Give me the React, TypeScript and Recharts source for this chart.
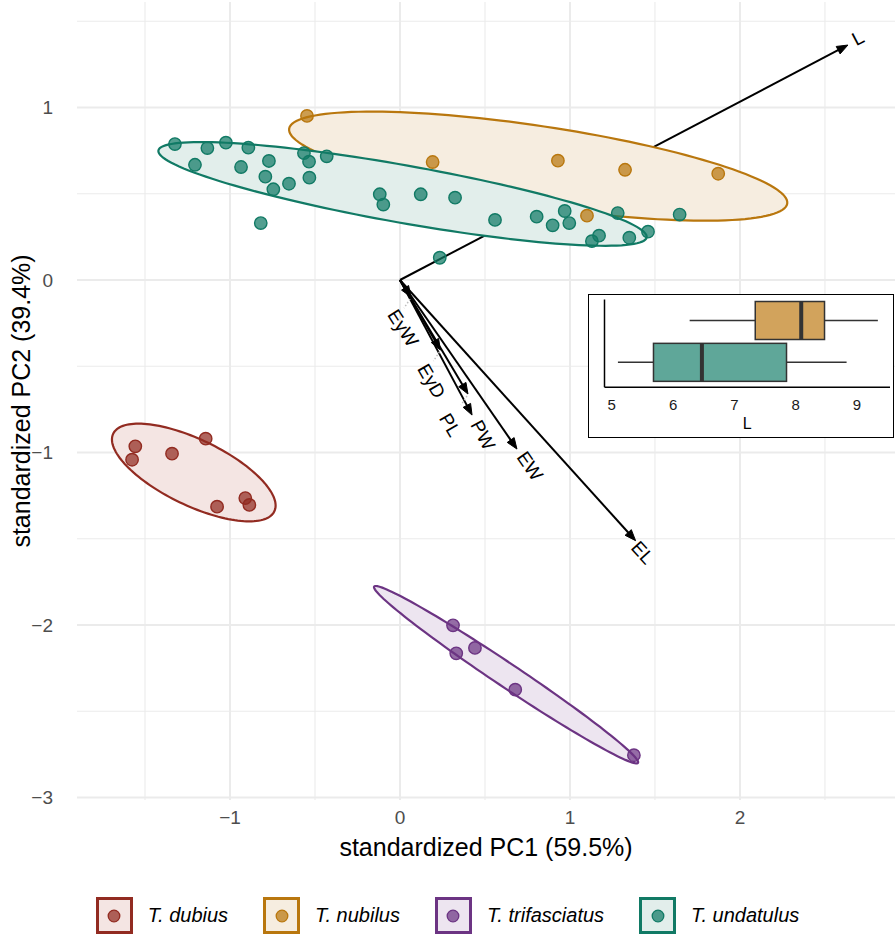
import React from "react";
import { ComposedChart, BarChart, Bar, Scatter, XAxis, YAxis, ReferenceLine } from "recharts";

const FONT = '"Liberation Sans", Arial, Helvetica, sans-serif';

// species, in legend / drawing order
const SPECIES = ["T. dubius", "T. nubilus", "T. trifasciatus", "T. undatulus"];

// PCA scores
const DUBIUS_PC1 = [-1.557, -1.576, -1.341, -1.143, -1.076, -0.91, -0.886];
const DUBIUS_PC2 = [-0.964, -1.042, -1.007, -0.92, -1.314, -1.264, -1.304];
const NUBILUS_PC1 = [-0.547, 0.192, 0.929, 1.324, 1.872, 1.1];
const NUBILUS_PC2 = [0.951, 0.684, 0.692, 0.639, 0.616, 0.373];
const TRIFASCIATUS_PC1 = [0.312, 0.331, 0.441, 0.678, 1.376];
const TRIFASCIATUS_PC2 = [-2.002, -2.164, -2.133, -2.375, -2.755];
const UNDATULUS_PC1 = [
  -1.324, -1.133, -1.024, -0.892, -1.206, -0.935, -0.771, -0.792, -0.745, -0.653, -0.565,
  -0.535, -0.533, -0.431, -0.819, -0.119, -0.098, 0.122, 0.324, 0.559, 0.804, 0.898, 0.969,
  0.996, 1.171, 1.129, 1.281, 1.349, 1.459, 1.645, 0.234,
];
const UNDATULUS_PC2 = [
  0.788, 0.765, 0.796, 0.767, 0.668, 0.655, 0.69, 0.599, 0.526, 0.558, 0.736, 0.686, 0.593,
  0.717, 0.33, 0.497, 0.437, 0.497, 0.477, 0.348, 0.367, 0.317, 0.4, 0.33, 0.257, 0.225,
  0.388, 0.245, 0.28, 0.379, 0.129,
];

// confidence ellipses: centre and the ends of two conjugate semi-axes (PC units)
const ELLIPSE_CX = [-1.213, 0.813, 0.624, 0.015];
const ELLIPSE_CY = [-1.116, 0.66, -2.288, 0.499];
const ELLIPSE_AX = [-0.739, 2.278, 1.4, 1.451];
const ELLIPSE_AY = [-1.341, 0.443, -2.799, 0.247];
const ELLIPSE_BX = [-1.297, 0.778, 0.585, -0.015];
const ELLIPSE_BY = [-1.288, 0.43, -2.345, 0.335];

// variable loadings
const VARIABLES = ["L", "EL", "EW", "PW", "PL", "EyD", "EyW"];
const LOAD_PC1 = [2.635, 1.386, 0.688, 0.424, 0.4, 0.238, 0.065];
const LOAD_PC2 = [1.362, -1.511, -0.98, -0.783, -0.661, -0.406, -0.099];

// inset boxplot of L
const BOX_GROUPS = ["T. nubilus", "T. undatulus"];
const BOX_MIN = [6.27, 5.1];
const BOX_Q1 = [7.34, 5.68];
const BOX_MED = [8.09, 6.47];
const BOX_Q3 = [8.47, 7.85];
const BOX_MAX = [9.34, 8.83];

const X_TICKS = [-1, 0, 1, 2];
const X_MINOR = [-1.5, -0.5, 0.5, 1.5, 2.5];
const Y_TICKS = [-3, -2, -1, 0, 1];
const Y_MINOR = [-2.5, -1.5, -0.5, 0.5, 1.5];
const L_TICKS = [5, 6, 7, 8, 9];

// styles
const LINE_COL = ["#922B21", "#B9770E", "#6C3483", "#117A65"];
const FILL_COL = ["#F4E5E3", "#F6EDE0", "#EDE5F0", "#E2EEEB"];
const BOX_FILL: Record<string, string> = { "T. nubilus": "#D2A35C", "T. undatulus": "#5FA799" };
const LABEL_OFFSET: Record<string, [number, number]> = {
  L: [10, -7],
  EL: [7, 12],
  EW: [13, 17],
  PW: [11, 20],
  PL: [-18, 31],
  EyD: [-9, 31],
  EyW: [-8, 31],
};
const LEADER = ["PL", "EyD", "EyW"];

const SCORES = [
  [DUBIUS_PC1, DUBIUS_PC2],
  [NUBILUS_PC1, NUBILUS_PC2],
  [TRIFASCIATUS_PC1, TRIFASCIATUS_PC2],
  [UNDATULUS_PC1, UNDATULUS_PC2],
].map(([xs, ys]) => xs.map((x, i) => ({ x, y: ys[i] })));

const ELLIPSES = SPECIES.map((_, i) => [
  { x: ELLIPSE_CX[i], y: ELLIPSE_CY[i] },
  { x: ELLIPSE_AX[i], y: ELLIPSE_AY[i] },
  { x: ELLIPSE_BX[i], y: ELLIPSE_BY[i] },
]);

const boxData = BOX_GROUPS.map((name, i) => ({
  name,
  min: BOX_MIN[i],
  q1: BOX_Q1[i],
  med: BOX_MED[i],
  q3: BOX_Q3[i],
  max: BOX_MAX[i],
}));

const minus = (v: number) => (v < 0 ? `\u2212${-v}` : `${v}`);

const noPoint = () => <g />;

// ellipse = affine image of the unit circle through the three scaled points
const ellipseLine = (i: number) => (lp: any) => {
  const pts = lp.points;
  if (!pts || pts.length < 3) return <g />;
  const [c, a, b] = pts;
  const ux = a.x - c.x, uy = a.y - c.y, vx = b.x - c.x, vy = b.y - c.y;
  let d = "";
  for (let k = 0; k <= 144; k++) {
    const t = (k / 144) * Math.PI * 2;
    const px = c.x + ux * Math.cos(t) + vx * Math.sin(t);
    const py = c.y + uy * Math.cos(t) + vy * Math.sin(t);
    d += (k === 0 ? "M" : "L") + px.toFixed(2) + "," + py.toFixed(2);
  }
  return <path d={d + "Z"} fill={FILL_COL[i]} stroke={LINE_COL[i]} strokeWidth={2.2} />;
};

const dot = (i: number) => (p: any) => (
  <circle cx={p.cx} cy={p.cy} r={6.2} fill={LINE_COL[i]} fillOpacity={0.72} stroke={LINE_COL[i]} strokeWidth={1.4} />
);

const arrow = (name: string) => (p: any) => {
  const { x1, y1, x2, y2 } = p;
  const dx = x2 - x1, dy = y2 - y1;
  const len = Math.hypot(dx, dy) || 1;
  const ux = dx / len, uy = dy / len;
  const head = 11, half = 4.2;
  const bx = x2 - ux * head, by = y2 - uy * head;
  const ang = (Math.atan2(dy, dx) * 180) / Math.PI;
  const [ox, oy] = LABEL_OFFSET[name];
  const lx = x2 + ox, ly = y2 + oy;
  return (
    <g>
      <line x1={x1} y1={y1} x2={bx + ux * 2} y2={by + uy * 2} stroke="#000" strokeWidth={2} />
      <polygon
        points={`${x2},${y2} ${bx - uy * half},${by + ux * half} ${bx + uy * half},${by - ux * half}`}
        fill="#000"
        stroke="#000"
        strokeWidth={1}
      />
      {LEADER.includes(name) && (
        <line x1={x2 - 1} y1={y2 + 2} x2={x2 - 7} y2={y2 + 11} stroke="#bdbdbd" strokeWidth={1.5} strokeDasharray="1.5 2" />
      )}
      <text
        x={lx}
        y={ly}
        transform={`rotate(${ang} ${lx} ${ly})`}
        textAnchor="middle"
        dominantBaseline="central"
        fontSize={19}
        fontFamily={FONT}
        fill="#000"
      >
        {name}
      </text>
    </g>
  );
};

const BoxShape = (p: any) => {
  const { x, y, width, height, payload } = p;
  const d = payload;
  const px = (v: number) => x + (width * (v - d.min)) / (d.max - d.min);
  const cy = y + height / 2;
  return (
    <g>
      <line x1={x} x2={px(d.q1)} y1={cy} y2={cy} stroke="#333" strokeWidth={1.5} />
      <line x1={px(d.q3)} x2={x + width} y1={cy} y2={cy} stroke="#333" strokeWidth={1.5} />
      <rect x={px(d.q1)} y={y} width={px(d.q3) - px(d.q1)} height={height} fill={BOX_FILL[d.name]} stroke="#333" strokeWidth={1.5} />
      <line x1={px(d.med)} x2={px(d.med)} y1={y} y2={y + height} stroke="#333" strokeWidth={4} />
    </g>
  );
};

const tickStyle = { fontSize: 19, fill: "#4D4D4D", fontFamily: FONT };
const titleStyle = { fontSize: 25, fill: "#000", fontFamily: FONT, textAnchor: "middle" as const };

export default function App() {
  return (
    <div style={{ position: "absolute", left: 0, top: 0, width: 895, height: 936, background: "#fff" }}>
      <ComposedChart width={895} height={880} margin={{ top: 2, right: 0, bottom: 0, left: 0 }}>
        <XAxis
          type="number"
          dataKey="x"
          domain={[-1.9, 2.912]}
          allowDataOverflow
          ticks={X_TICKS}
          tickFormatter={minus}
          tickLine={false}
          tickSize={0}
          tickMargin={11}
          axisLine={false}
          height={80}
          tick={tickStyle}
          label={{ value: "standardized PC1 (59.5%)", position: "insideBottom", offset: 24, style: titleStyle }}
        />
        <YAxis
          type="number"
          dataKey="y"
          domain={[-3.0145, 1.6116]}
          allowDataOverflow
          ticks={Y_TICKS}
          tickFormatter={minus}
          tickLine={false}
          tickSize={0}
          tickMargin={24}
          axisLine={false}
          width={77}
          tick={tickStyle}
          label={{ value: "standardized PC2 (39.4%)", angle: -90, position: "insideLeft", offset: 21, style: titleStyle }}
        />
        {X_MINOR.map((v) => (
          <ReferenceLine key={`xm${v}`} x={v} stroke="#EBEBEB" strokeWidth={1.1} />
        ))}
        {Y_MINOR.map((v) => (
          <ReferenceLine key={`ym${v}`} y={v} stroke="#EBEBEB" strokeWidth={1.1} />
        ))}
        {X_TICKS.map((v) => (
          <ReferenceLine key={`x${v}`} x={v} stroke="#EBEBEB" strokeWidth={2} />
        ))}
        {Y_TICKS.map((v) => (
          <ReferenceLine key={`y${v}`} y={v} stroke="#EBEBEB" strokeWidth={2} />
        ))}
        {VARIABLES.map((v, i) => (
          <ReferenceLine
            key={v}
            segment={[{ x: 0, y: 0 }, { x: LOAD_PC1[i], y: LOAD_PC2[i] }]}
            ifOverflow="visible"
            shape={arrow(v)}
          />
        ))}
        {ELLIPSES.map((e, i) => (
          <Scatter key={`e${i}`} data={e} shape={noPoint} line={ellipseLine(i)} isAnimationActive={false} />
        ))}
        {SCORES.map((s, i) => (
          <Scatter key={SPECIES[i]} name={SPECIES[i]} data={s} shape={dot(i)} isAnimationActive={false} />
        ))}
      </ComposedChart>

      <div
        style={{
          position: "absolute",
          left: 588,
          top: 294,
          width: 306,
          height: 144,
          border: "1.5px solid #000",
          boxSizing: "border-box",
          background: "#fff",
        }}
      >
        <BarChart width={303} height={141} layout="vertical" data={boxData} margin={{ top: 4.5, right: 2, bottom: 0, left: 0 }} barSize={38}>
          <XAxis
            type="number"
            domain={[4.881, 9.538]}
            allowDataOverflow
            ticks={L_TICKS}
            tickLine={false}
            tickSize={0}
            tickMargin={12}
            height={48.8}
            axisLine={{ stroke: "#000", strokeWidth: 1.5 }}
            tick={{ fontSize: 15, fill: "#1a1a1a", fontFamily: FONT }}
            label={{ value: "L", position: "insideBottom", offset: 6.7, style: { fontSize: 16, fill: "#000", fontFamily: FONT } }}
          />
          <YAxis
            type="category"
            dataKey="name"
            width={15.5}
            tick={false}
            tickLine={false}
            padding={{ top: 0, bottom: 4 }}
            axisLine={{ stroke: "#000", strokeWidth: 1.5 }}
          />
          <Bar dataKey={(d: any) => [d.min, d.max]} shape={BoxShape} isAnimationActive={false} />
        </BarChart>
      </div>

      <div
        style={{
          position: "absolute",
          left: 0,
          top: 897,
          width: 895,
          display: "flex",
          justifyContent: "center",
          alignItems: "center",
          fontFamily: FONT,
        }}
      >
        {SPECIES.map((s, i) => (
          <div key={s} style={{ display: "flex", alignItems: "center", marginRight: i < SPECIES.length - 1 ? 35 : 0 }}>
            <div
              style={{
                width: 37,
                height: 37,
                boxSizing: "border-box",
                border: `3px solid ${LINE_COL[i]}`,
                background: FILL_COL[i],
                display: "flex",
                alignItems: "center",
                justifyContent: "center",
              }}
            >
              <svg width={14} height={14}>
                <circle cx={7} cy={7} r={5.8} fill={LINE_COL[i]} fillOpacity={0.72} stroke={LINE_COL[i]} strokeWidth={1.3} />
              </svg>
            </div>
            <span style={{ marginLeft: 15, fontStyle: "italic", fontSize: 20, color: "#000" }}>{s}</span>
          </div>
        ))}
      </div>
    </div>
  );
}
